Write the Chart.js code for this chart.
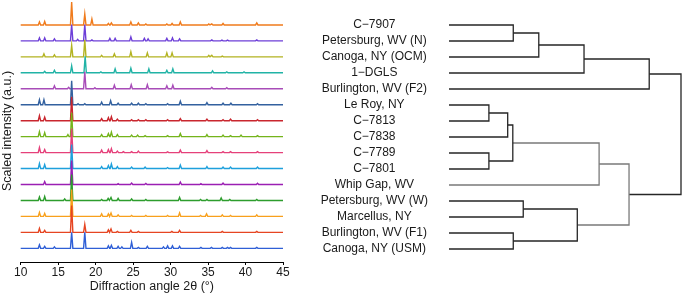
<!DOCTYPE html>
<html>
<head>
<meta charset="utf-8">
<script src="https://cdn.jsdelivr.net/npm/chart.js@4.4.1/dist/chart.umd.min.js"></script>
<style>
  html, body { margin: 0; padding: 0; background: #fff; }
  #wrap { position: relative; width: 685px; height: 296px; }
  .pane { position: absolute; top: 0; }
</style>
</head>
<body>
<div id="wrap">
  <div class="pane" style="left:0;width:300px;height:296px"><canvas id="xrd" width="300" height="296"></canvas></div>
  <div class="pane" style="left:300px;width:385px;height:296px"><canvas id="dendro" width="385" height="296"></canvas></div>
</div>
<script>
// samples, top to bottom (same order in the patterns and the dendrogram)
var samples = ['C\u22127907', 'Petersburg, WV (N)', 'Canoga, NY (OCM)', '1\u2212DGLS', 'Burlington, WV (F2)',
  'Le Roy, NY', 'C\u22127813', 'C\u22127838', 'C\u22127789', 'C\u22127801', 'Whip Gap, WV',
  'Petersburg, WV (W)', 'Marcellus, NY', 'Burlington, WV (F1)', 'Canoga, NY (USM)'];

var traceColors = ['#f07b1c', '#6d3fd8', '#b3b321', '#21b3a6', '#a84cb8', '#33619f', '#c9262e',
  '#74b41b', '#e5407a', '#1ea0dc', '#9b1fb3', '#2d9d2d', '#f8a01c', '#e64522', '#2f5fd6'];

// peaks per sample: [2theta, scaled intensity]
var pk7907 = [[12.5,3],[13.2,3.5],[16.8,23],[18.55,11],[19.5,6],[21.7,1.5],[22.1,2],[24.7,3],[25.7,2],[26.7,1],
  [29.5,1],[30.2,1.5],[31.3,3],[35.1,1],[35.5,1],[37,1.5],[41.5,2]];
var pkPetN = [[12.5,3],[13.2,3],[14.5,2],[16.8,16.5],[17.6,1.5],[18.55,16.5],[19.5,1],[21.9,2.5],[22.6,2.5],[24.7,4],
  [26.5,2.5],[27,2],[29.5,2.5],[30.25,3],[31.2,2],[35.5,1],[36.85,0.8],[37.6,0.8],[41.5,1]];
var pkOCM = [[13.1,3],[14.5,2],[16.8,11.5],[18.55,17],[20.8,1.5],[22.5,3],[24.7,5],[26.9,4],[29.5,4],[30.2,4],
  [35.1,1.5],[35.5,1.5],[36.9,0.8]];
var pkDGLS = [[13.2,1.5],[14.5,2.5],[16.8,7],[18.6,16.5],[20.7,1],[22.6,4],[24.7,4.5],[27.1,4],[29.5,2.5],[30.3,4],
  [35.6,2],[37.5,1],[39.8,1]];
var pkF2 = [[14.5,3],[16.4,1.5],[18.55,17],[19.9,1],[22.5,3.5],[24.75,4],[26.9,4],[29.5,3],[30.3,3.5],[35.5,1.5],[37.5,1]];
var pkLeRoy = [[12.5,5],[13.1,5],[16.8,24],[17.65,1],[18.55,1],[20.8,2.5],[22,4],[23,1.5],[24.8,1.5],[25.7,1.5],[26.7,1],
  [29.6,1],[31.3,3.5],[34.85,2],[37,1.5],[38.05,1.5],[41.6,1]];
var pk7813 = [[12.5,5],[13.2,3.5],[16.8,24],[20.8,2],[21.7,3],[22.1,4],[22.9,1.5],[24.8,1],[25.7,1],[26.7,1],[29.6,1],
  [31.3,2],[34.85,1.5],[37,1],[38,1.5],[41.6,1]];
var pk7838 = [[12.5,5],[13.2,4],[16.3,2],[16.8,24],[20.8,2],[21.7,3],[22.1,4.5],[22.9,2],[24.8,1.5],[25.6,1.5],[26.6,1],
  [29.6,1],[31.3,3],[34.85,2],[37,1.5],[38,1],[39.4,1.5],[41.6,1]];
var pk7789 = [[12.5,5],[13.2,3],[16.8,24],[20.8,2.5],[21.7,3],[22.1,4],[22.9,1.5],[23.7,1],[24.8,1],[25.7,1.5],
  [29.6,0.8],[31.3,2.5],[34.85,2],[37,1],[38,1],[41.6,1]];
var pk7801 = [[12.5,5],[13.2,4],[16.8,24],[20.8,2],[21.7,3],[22.1,4.5],[22.9,2],[24.8,1.5],[26.6,1.5],[29.6,1],
  [31.3,3.5],[34.85,2],[37,1.5],[38,1.5],[41.6,1.5]];
var pkWhip = [[13.2,3],[16.8,24],[23,0.8],[24.8,1.5],[26.7,1],[31.3,2.5],[34.05,0.8],[37,1.5],[41.6,1.2]];
var pkPetW = [[12.5,3.5],[13.2,4],[15.87,1.5],[16.8,26],[20.8,1],[21.67,2],[22.05,3],[23,2],[24.8,1.5],[26.7,1],
  [31.2,3],[34,1],[34.85,1],[36.75,2.5],[37.9,1],[41.5,1]];
var pkMarc = [[12.5,4],[13.2,3],[16.8,27],[20.8,2.5],[21.7,2.5],[22.05,3.5],[23,1.5],[24.8,1],[26.7,1],[29.6,1],
  [31.2,3.5],[34,1],[34.8,2.5],[36.9,1.5],[38,1],[41.5,1.5]];
var pkF1 = [[12.5,4],[13.2,2],[16.8,27],[18.55,8],[21.7,2.5],[22.05,3.5],[22.9,1],[24.7,2],[25.7,1],[30.17,1],
  [31.2,2],[36.9,1],[41.5,1]];
var pkUSM = [[12.5,3.5],[13.2,2],[14.5,1.5],[16.8,16],[18.55,16],[21.7,2.5],[22.1,3],[23,2],[23.5,1.5],[24.8,6],
  [25.7,1],[26.9,2],[29.05,1.5],[29.6,2.5],[30.25,2.5],[31.2,2],[34.05,1],[35.45,1],[36.9,1],[37.6,1],[38,1],[41.5,1]];

var patterns = [pk7907, pkPetN, pkOCM, pkDGLS, pkF2, pkLeRoy, pk7813, pk7838, pk7789, pk7801, pkWhip,
  pkPetW, pkMarc, pkF1, pkUSM];

// dendrogram merges: [node a, node b, height]; leaves are 0..14, merge k makes node 15+k
var merges = [[5,6,0.172],[8,9,0.172],[15,7,0.253],[17,16,0.275],[0,1,0.277],[13,14,0.277],[11,12,0.320],
  [19,2,0.387],[21,20,0.553],[22,3,0.582],[18,10,0.647],[25,23,0.776],[24,4,0.863],[27,26,1.0]];
var grayMerges = [10, 11];

var xTicks = [10, 15, 20, 25, 30, 35, 40, 45];

Chart.defaults.font.family = '"Liberation Sans", Arial, Helvetica, sans-serif';
Chart.defaults.color = '#1a1a1a';
Chart.defaults.animation = false;

var step = 16, peakHalf = 0.16;
function tracePoints(peaks, base) {
  var pts = [{x: 10, y: base}];
  peaks.forEach(function (p) {
    pts.push({x: p[0] - peakHalf, y: base}, {x: p[0], y: base + p[1]}, {x: p[0] + peakHalf, y: base});
  });
  pts.push({x: 45, y: base});
  return pts;
}

var xrdSets = [];
for (var i = 0; i < patterns.length; i++) {
  xrdSets.push({
    data: tracePoints(patterns[i], (patterns.length - 1 - i) * step),
    borderColor: traceColors[i],
    borderWidth: 1.4,
    pointRadius: 0,
    showLine: true,
    clip: false,
    order: patterns.length - 1 - i
  });
}

new Chart(document.getElementById('xrd'), {
  type: 'scatter',
  data: { datasets: xrdSets },
  options: {
    responsive: false,
    events: [],
    layout: { padding: { left: 0, right: 17, top: 0, bottom: 0 } },
    plugins: { legend: { display: false }, tooltip: { enabled: false } },
    scales: {
      x: {
        type: 'linear', min: 10, max: 45,
        afterBuildTicks: function (s) { s.ticks = xTicks.map(function (v) { return {value: v}; }); },
        afterFit: function (s) { s.height = 34; },
        ticks: { font: { size: 12 }, padding: 0, maxRotation: 0 },
        grid: { drawOnChartArea: false, color: '#000', tickLength: 3 },
        border: { color: '#000', width: 1 },
        title: { display: true, text: 'Diffraction angle 2\u03b8 (\u00b0)', font: { size: 12.5 }, padding: { top: 0, bottom: 2 } }
      },
      y: {
        type: 'linear', min: -13.7, max: 249,
        afterFit: function (s) { s.width = 20.7; },
        ticks: { display: false },
        grid: { display: false },
        border: { display: false },
        title: { display: true, text: 'Scaled intensity (a.u.)', font: { size: 12.5 }, padding: { top: 0, bottom: 0 } }
      }
    }
  }
});

// dendrogram links as U shapes
var nodeY = samples.map(function (_, i) { return i; });
var nodeH = samples.map(function () { return 0; });
var dendroSets = merges.map(function (m, k) {
  var a = m[0], b = m[1], h = m[2];
  var pts = [{x: nodeH[a], y: nodeY[a]}, {x: h, y: nodeY[a]}, {x: h, y: nodeY[b]}, {x: nodeH[b], y: nodeY[b]}];
  nodeY.push((nodeY[a] + nodeY[b]) / 2);
  nodeH.push(h);
  return {
    data: pts,
    borderColor: grayMerges.indexOf(k) >= 0 ? '#7a7a7a' : '#262626',
    borderWidth: 1.3,
    pointRadius: 0,
    showLine: true,
    clip: false
  };
});

new Chart(document.getElementById('dendro'), {
  type: 'scatter',
  data: { datasets: dendroSets },
  options: {
    responsive: false,
    events: [],
    layout: { padding: { left: 0, right: 4, top: 0, bottom: 0 } },
    plugins: { legend: { display: false }, tooltip: { enabled: false } },
    scales: {
      x: { type: 'linear', min: 0, max: 1, display: false },
      y: {
        type: 'linear', min: -1.5625, max: 16.9375, reverse: true,
        afterBuildTicks: function (s) { s.ticks = samples.map(function (_, i) { return {value: i}; }); },
        afterFit: function (s) { s.width = 149; s.paddingTop = 0; s.paddingBottom = 0; },
        ticks: {
          autoSkip: false, crossAlign: 'center', padding: 0,
          font: { size: 12 },
          callback: function (v) { return samples[v]; }
        },
        // invisible tick marks keep the gap between labels and leaves
        grid: { display: true, drawOnChartArea: false, drawTicks: true, tickLength: 21, color: 'rgba(0,0,0,0)' },
        border: { display: false }
      }
    }
  }
});
</script>
</body>
</html>
